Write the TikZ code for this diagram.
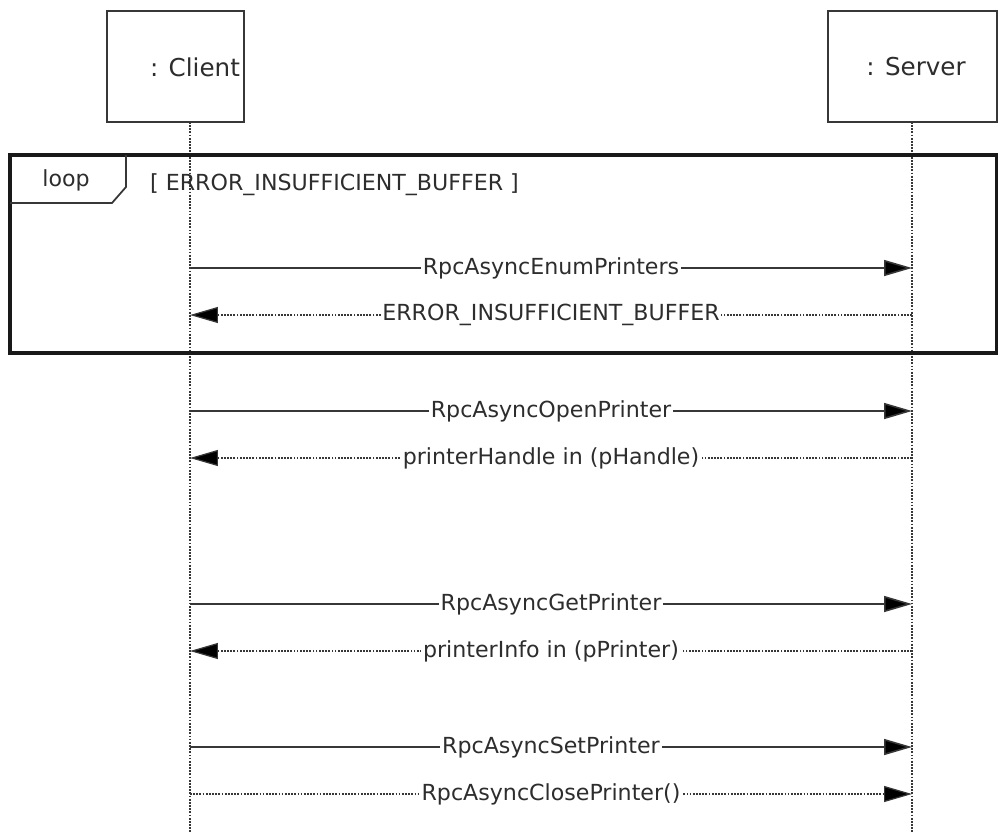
\documentclass[tikz,border=0pt]{standalone}
\usepackage{fontspec}
\setmainfont{DejaVu Sans}
\usetikzlibrary{arrows.meta, positioning}
\definecolor{lineColor}{RGB}{55, 55, 55}
\definecolor{textColor}{RGB}{45, 45, 45}

\begin{document}
\begin{tikzpicture}[x=0.02cm, y=-0.02cm,
    actor/.style={draw=lineColor, thick, fill=white, minimum width=3.38cm, minimum height=2.22cm},
    lifeline/.style={draw=lineColor, line width=0.8pt, dash pattern=on 1pt off 0.8pt},
    call/.style={draw=lineColor, line width=0.9pt, -{Triangle[length=0.56cm, width=0.32cm, fill=black]}},
    reply/.style={draw=lineColor, line width=0.7pt, dash pattern=on 1pt off 0.8pt, -{Triangle[length=0.56cm, width=0.32cm, fill=black]}},
    msg/.style={fill=white, inner sep=1pt, text=textColor, font=\fontsize{12.6}{14}\selectfont},
    every node/.style={text=textColor, font=\fontsize{12.6}{14}\selectfont}]
    \useasboundingbox (0,0) rectangle (998,833);

    % participants
    \node[actor, minimum width=2.74cm] (client) at (175.5,66.5) {};
    \node[actor] (server) at (912.5,66.5) {};
    \node[font=\fontsize{14}{16}\selectfont] (clientName) at (195,67) {: Client};
    \node[font=\fontsize{14}{16}\selectfont] (serverName) at (916,67) {: Server};

    \coordinate (clientTop) at (190,122);
    \coordinate (clientEnd) at (190,833);
    \coordinate (serverTop) at (912,122);
    \coordinate (serverEnd) at (912,833);
    \draw[lifeline] (clientTop) -- (clientEnd);
    \draw[lifeline] (serverTop) -- (serverEnd);

    % loop frame
    \draw[draw=black!90, line width=1.8pt] (10,155) rectangle (997,353);
    \draw[draw=lineColor, line width=1pt] (10,203) -- (112,203) -- (126,187) -- (126,155);
    \node (loopTag) at (66,180) {loop};
    \node[anchor=west] (guard) at (144,185) {[ ERROR\_INSUFFICIENT\_BUFFER ]};

    % messages
    \foreach \name/\y in {c1/268, c2/315, c3/411, c4/458, c5/604, c6/651, c7/747, c8/794} {
        \coordinate (\name) at (190,\y);
    }
    \foreach \name/\y in {s1/268, s2/315, s3/411, s4/458, s5/604, s6/651, s7/747, s8/794} {
        \coordinate (\name) at (912,\y);
    }

    \draw[call] (c1) -- node[msg] {RpcAsyncEnumPrinters} (s1);
    \draw[reply] (s2) -- node[msg] {ERROR\_INSUFFICIENT\_BUFFER} (c2);
    \draw[call] (c3) -- node[msg] {RpcAsyncOpenPrinter} (s3);
    \draw[reply] (s4) -- node[msg] {printerHandle in (pHandle)} (c4);
    \draw[call] (c5) -- node[msg] {RpcAsyncGetPrinter} (s5);
    \draw[reply] (s6) -- node[msg] {printerInfo in (pPrinter)} (c6);
    \draw[call] (c7) -- node[msg] {RpcAsyncSetPrinter} (s7);
    \draw[reply] (c8) -- node[msg] {RpcAsyncClosePrinter()} (s8);
\end{tikzpicture}
\end{document}
